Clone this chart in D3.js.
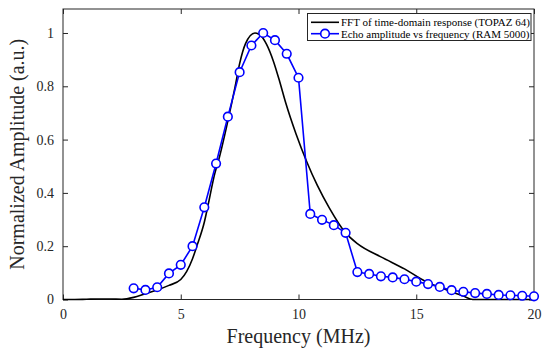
<!DOCTYPE html>
<html>
<head>
<meta charset="utf-8">
<script src="https://cdn.jsdelivr.net/npm/d3@7"></script>
<style>
  body { margin: 0; background: #fff; }
  svg { display: block; }
  text { font-family: "Liberation Serif", "Times New Roman", serif; }
</style>
</head>
<body>
<svg id="chart" width="550" height="352"></svg>
<script>
// Echo amplitude (RAM 5000), sampled every 0.5 MHz
var echoFreq = [3, 3.5, 4, 4.5, 5, 5.5, 6, 6.5, 7, 7.5, 8, 8.5, 9, 9.5, 10,
    10.5, 11, 11.5, 12, 12.5, 13, 13.5, 14, 14.5, 15, 15.5, 16, 16.5, 17,
    17.5, 18, 18.5, 19, 19.5, 20];
var echoAmp = [0.042, 0.036, 0.046, 0.098, 0.13, 0.20, 0.346, 0.51, 0.686, 0.853,
    0.953, 1.0, 0.973, 0.922, 0.832, 0.321, 0.299, 0.279, 0.25, 0.103,
    0.096, 0.087, 0.083, 0.076, 0.067, 0.058, 0.047, 0.035, 0.029,
    0.024, 0.021, 0.017, 0.016, 0.014, 0.012];

// FFT of time-domain response (TOPAZ 64)
var fftFreq = [0, 0.5, 1, 1.5, 2, 2.5, 3, 3.5, 4, 4.5, 5, 5.5, 5.7, 6, 6.15,
    6.45, 6.6, 7, 7.3, 7.5, 7.75, 8.15, 8.45, 8.65, 8.93, 9.2, 9.45, 9.9,
    10.35, 10.8, 11.3, 12, 12.5, 13.5, 14.5, 15.4, 16.3, 17, 17.4, 18, 19, 20];
var fftAmp = [0, 0, 0.001, 0.002, 0.002, 0.001, 0.008, 0.022, 0.036, 0.053, 0.075,
    0.153, 0.205, 0.29, 0.35, 0.474, 0.52, 0.67, 0.795, 0.885, 0.96, 1.0,
    0.985, 0.956, 0.895, 0.818, 0.74, 0.62, 0.517, 0.428, 0.345, 0.25,
    0.21, 0.16, 0.115, 0.068, 0.036, 0.013, 0, 0, 0, 0];

var xTicks = [0, 5, 10, 15, 20];
var yTicks = [0, 0.2, 0.4, 0.6, 0.8, 1];
var legendLabels = ["FFT of time-domain response (TOPAZ 64)",
    "Echo amplitude vs frequency (RAM 5000)"];

var svg = d3.select("#chart");
// plot box edges (window.top is reserved, so use other names)
var pLeft = 63, pRight = 534, pTop = 9, pBottom = 299.5;

var x = d3.scaleLinear().domain([0, 20]).range([pLeft, pRight]);
var y = d3.scaleLinear().domain([0, 1.09]).range([pBottom, pTop]);

var fmt = d => String(d);

// axes box, ticks pointing inward
svg.append("g")
    .attr("transform", "translate(0," + pBottom + ")")
    .call(d3.axisBottom(x).tickValues(xTicks).tickFormat(fmt).tickSizeInner(-5).tickSizeOuter(0).tickPadding(10))
    .call(g => g.select(".domain").remove());
svg.append("g")
    .attr("transform", "translate(0," + pTop + ")")
    .call(d3.axisTop(x).tickValues(xTicks).tickSizeInner(-5).tickSizeOuter(0).tickFormat(""))
    .call(g => g.select(".domain").remove());
svg.append("g")
    .attr("transform", "translate(" + pLeft + ",0)")
    .call(d3.axisLeft(y).tickValues(yTicks).tickFormat(fmt).tickSizeInner(-5).tickSizeOuter(0).tickPadding(9))
    .call(g => g.select(".domain").remove());
svg.append("g")
    .attr("transform", "translate(" + pRight + ",0)")
    .call(d3.axisRight(y).tickValues(yTicks).tickSizeInner(-5).tickSizeOuter(0).tickFormat(""))
    .call(g => g.select(".domain").remove());

svg.selectAll("g").attr("font-family", "Liberation Serif, serif");
svg.selectAll(".tick line").attr("stroke", "#262626");
svg.selectAll(".tick text")
    .style("font-family", "'Liberation Serif', serif")
    .style("font-size", "14px")
    .attr("fill", "#262626");

svg.append("rect")
    .attr("x", pLeft).attr("y", pTop)
    .attr("width", pRight - pLeft).attr("height", pBottom - pTop)
    .attr("fill", "none").attr("stroke", "#262626").attr("stroke-width", 1);

// FFT curve
var fftData = fftFreq.map((f, i) => [f, fftAmp[i]]);
svg.append("path")
    .datum(fftData)
    .attr("fill", "none")
    .attr("stroke", "#000")
    .attr("stroke-width", 1.6)
    .attr("d", d3.line().x(d => x(d[0])).y(d => y(d[1])).curve(d3.curveMonotoneX));

// Echo line with markers
var echoData = echoFreq.map((f, i) => [f, echoAmp[i]]);
svg.append("path")
    .datum(echoData)
    .attr("fill", "none")
    .attr("stroke", "#0000ff")
    .attr("stroke-width", 1.6)
    .attr("d", d3.line().x(d => x(d[0])).y(d => y(d[1])));
svg.append("g").selectAll("circle")
    .data(echoData)
    .enter().append("circle")
    .attr("cx", d => x(d[0]))
    .attr("cy", d => y(d[1]))
    .attr("r", 4.3)
    .attr("fill", "#fff")
    .attr("stroke", "#0000ff")
    .attr("stroke-width", 1.6);

// axis titles
svg.append("text")
    .attr("x", (pLeft + pRight) / 2)
    .attr("y", 343)
    .attr("text-anchor", "middle")
    .style("font-size", "20px")
    .attr("fill", "#262626")
    .text("Frequency (MHz)");
svg.append("text")
    .attr("transform", "translate(24," + ((pTop + pBottom) / 2) + ") rotate(-90)")
    .attr("text-anchor", "middle")
    .style("font-size", "20px")
    .attr("fill", "#262626")
    .text("Normalized Amplitude (a.u.)");

// legend
var lg = svg.append("g");
lg.append("rect")
    .attr("x", 307.5).attr("y", 13.5)
    .attr("width", 223.5).attr("height", 27)
    .attr("fill", "#fff").attr("stroke", "#262626").attr("stroke-width", 1);
var rows = [22.3, 33.7];
lg.append("line")
    .attr("x1", 311).attr("x2", 339).attr("y1", rows[0]).attr("y2", rows[0])
    .attr("stroke", "#000").attr("stroke-width", 1.6);
lg.append("line")
    .attr("x1", 311).attr("x2", 339).attr("y1", rows[1]).attr("y2", rows[1])
    .attr("stroke", "#0000ff").attr("stroke-width", 1.6);
lg.append("circle")
    .attr("cx", 325).attr("cy", rows[1]).attr("r", 4.3)
    .attr("fill", "#fff").attr("stroke", "#0000ff").attr("stroke-width", 1.6);
lg.selectAll("text.lab")
    .data(legendLabels)
    .enter().append("text")
    .attr("class", "lab")
    .attr("x", 341)
    .attr("y", (d, i) => rows[i] + 3.8)
    .style("font-size", "11px")
    .attr("fill", "#000")
    .text(d => d);
</script>
</body>
</html>
